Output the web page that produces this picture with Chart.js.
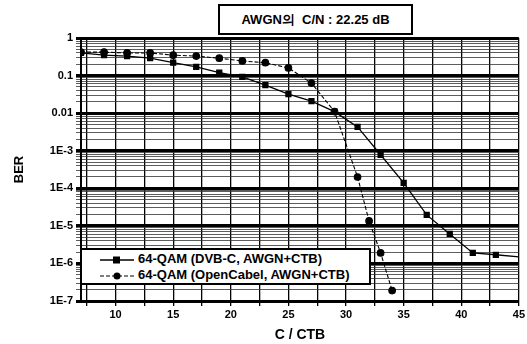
<!DOCTYPE html>
<html>
<head>
<meta charset="utf-8">
<script src="https://cdn.jsdelivr.net/npm/chart.js@4"></script>
<style>
  body { margin: 0; background: #fff; }
  #wrap { position: relative; width: 527px; height: 344px; font-family: "Liberation Sans", Arial, sans-serif; }
  #chart { position: absolute; left: 0; top: 0; }
  #title {
    position: absolute; left: 218px; top: 4px; width: 191px; height: 27px;
    border: 2px solid #000; background: #fff;
    font-size: 13px; font-weight: bold; line-height: 27px; text-align: center;
    white-space: pre;
  }
  #legend {
    position: absolute; left: 80px; top: 248px; width: 287px; height: 33px;
    border: 2px solid #000; background: #fff; font-size: 13px; font-weight: bold;
  }
  #legend .row { position: absolute; left: 18px; height: 16px; line-height: 16px; white-space: nowrap; }
  #legend svg { vertical-align: middle; margin-right: 4px; }
</style>
</head>
<body>
<div id="wrap">
  <canvas id="chart" width="527" height="344"></canvas>
  <div id="title">AWGN의  C/N : 22.25 dB</div>
  <div id="legend">
    <div class="row" style="top:1px">
      <svg width="34" height="10"><line x1="0" y1="5" x2="34" y2="5" stroke="#000" stroke-width="1.5"/><rect x="13" y="1.5" width="7" height="7" fill="#000"/></svg>64-QAM (DVB-C, AWGN+CTB)
    </div>
    <div class="row" style="top:17px">
      <svg width="34" height="10"><line x1="0" y1="5" x2="34" y2="5" stroke="#000" stroke-width="1.2" stroke-dasharray="4,2"/><circle cx="17" cy="5" r="3.5" fill="#000"/></svg>64-QAM (OpenCabel, AWGN+CTB)
    </div>
  </div>
</div>
<script>
// C/CTB values (dB) and BER
const dvbX = [7, 9, 11, 13, 15, 17, 19, 21, 23, 25, 27, 29, 31, 33, 35, 37, 39, 41, 43, 45];
const dvbBer = [0.40, 0.35, 0.33, 0.29, 0.22, 0.17, 0.12, 0.092, 0.056, 0.032, 0.021, 0.011,
                0.0043, 7.8e-4, 1.4e-4, 1.96e-5, 6.1e-6, 1.9e-6, 1.7e-6, 1.5e-6];
const openX = [7, 9, 11, 13, 15, 17, 19, 21, 23, 25, 27, 29, 31, 32, 33, 34];
const openBer = [0.42, 0.42, 0.40, 0.40, 0.35, 0.33, 0.29, 0.245, 0.22, 0.16, 0.063, 0.011,
                 2.0e-4, 1.35e-5, 1.9e-6, 1.9e-7];
const xTickStep = 2.5;
const yDecades = [-7, -6, -5, -4, -3, -2, -1, 0];
const yDecadeLabels = ['1E-7', '1E-6', '1E-5', '1E-4', '1E-3', '0.01', '0.1', '1'];

const toPoints = (xs, ys) => xs.map((x, i) => ({ x: x, y: ys[i] }));
const isDecade = v => Math.abs(Math.log10(v) - Math.round(Math.log10(v))) < 1e-6;
const tickFont = { family: '"Liberation Sans", Arial, sans-serif', size: 11, weight: 'bold' };

new Chart(document.getElementById('chart').getContext('2d'), {
  type: 'line',
  data: {
    datasets: [{
      label: '64-QAM (DVB-C, AWGN+CTB)',
      data: toPoints(dvbX, dvbBer),
      borderColor: '#000',
      backgroundColor: '#000',
      borderWidth: 1.3,
      pointStyle: 'rect',
      pointRadius: ctx => (ctx.raw && ctx.raw.x >= 45 ? 0 : 3.5),
      tension: 0
    }, {
      label: '64-QAM (OpenCabel, AWGN+CTB)',
      data: toPoints(openX, openBer),
      borderColor: '#000',
      backgroundColor: '#000',
      borderWidth: 1.1,
      borderDash: [4, 2],
      pointStyle: 'circle',
      pointRadius: 3.3,
      tension: 0
    }]
  },
  options: {
    responsive: false,
    animation: false,
    layout: { padding: { left: 12, right: 7, top: 38, bottom: 0 } },
    plugins: { legend: { display: false }, tooltip: { enabled: false } },
    scales: {
      x: {
        type: 'linear',
        min: 7,
        max: 45,
        afterBuildTicks: scale => {
          const t = [];
          for (let v = 7.5; v <= 45; v += xTickStep) t.push({ value: v });
          scale.ticks = t;
        },
        afterFit: scale => { scale.height = 43; },
        border: { color: '#000', width: 2 },
        grid: { color: '#000', lineWidth: 1.3, tickLength: 5 },
        ticks: {
          color: '#000', font: tickFont, padding: 2, maxRotation: 0, autoSkip: false,
          callback: v => (v % 5 === 0 ? String(v) : '')
        },
        title: {
          display: true, text: 'C / CTB', color: '#000', padding: { top: 8, bottom: 0 },
          font: { family: '"Liberation Sans", Arial, sans-serif', size: 14, weight: 'bold' }
        }
      },
      y: {
        type: 'logarithmic',
        min: 1e-7,
        max: 1,
        afterBuildTicks: scale => {
          const t = [];
          yDecades.forEach(e => {
            for (let m = 1; m <= 9; m++) {
              const v = m * Math.pow(10, e);
              if (v <= 1.0000001) t.push({ value: v });
            }
          });
          scale.ticks = t;
        },
        afterFit: scale => { scale.width = 69; },
        border: { color: '#000', width: 2 },
        grid: {
          color: ctx => (ctx.tick && isDecade(ctx.tick.value) ? '#000' : '#333'),
          lineWidth: ctx => (ctx.tick && isDecade(ctx.tick.value) ? 3 : 0.8),
          tickLength: 5
        },
        ticks: {
          color: '#000', font: tickFont, padding: 3, autoSkip: false,
          callback: v => {
            if (!isDecade(v)) return '';
            return yDecadeLabels[yDecades.indexOf(Math.round(Math.log10(v)))];
          }
        },
        title: {
          display: true, text: 'BER', color: '#000', padding: 0,
          font: { family: '"Liberation Sans", Arial, sans-serif', size: 13, weight: 'bold' }
        }
      }
    }
  }
});
</script>
</body>
</html>
